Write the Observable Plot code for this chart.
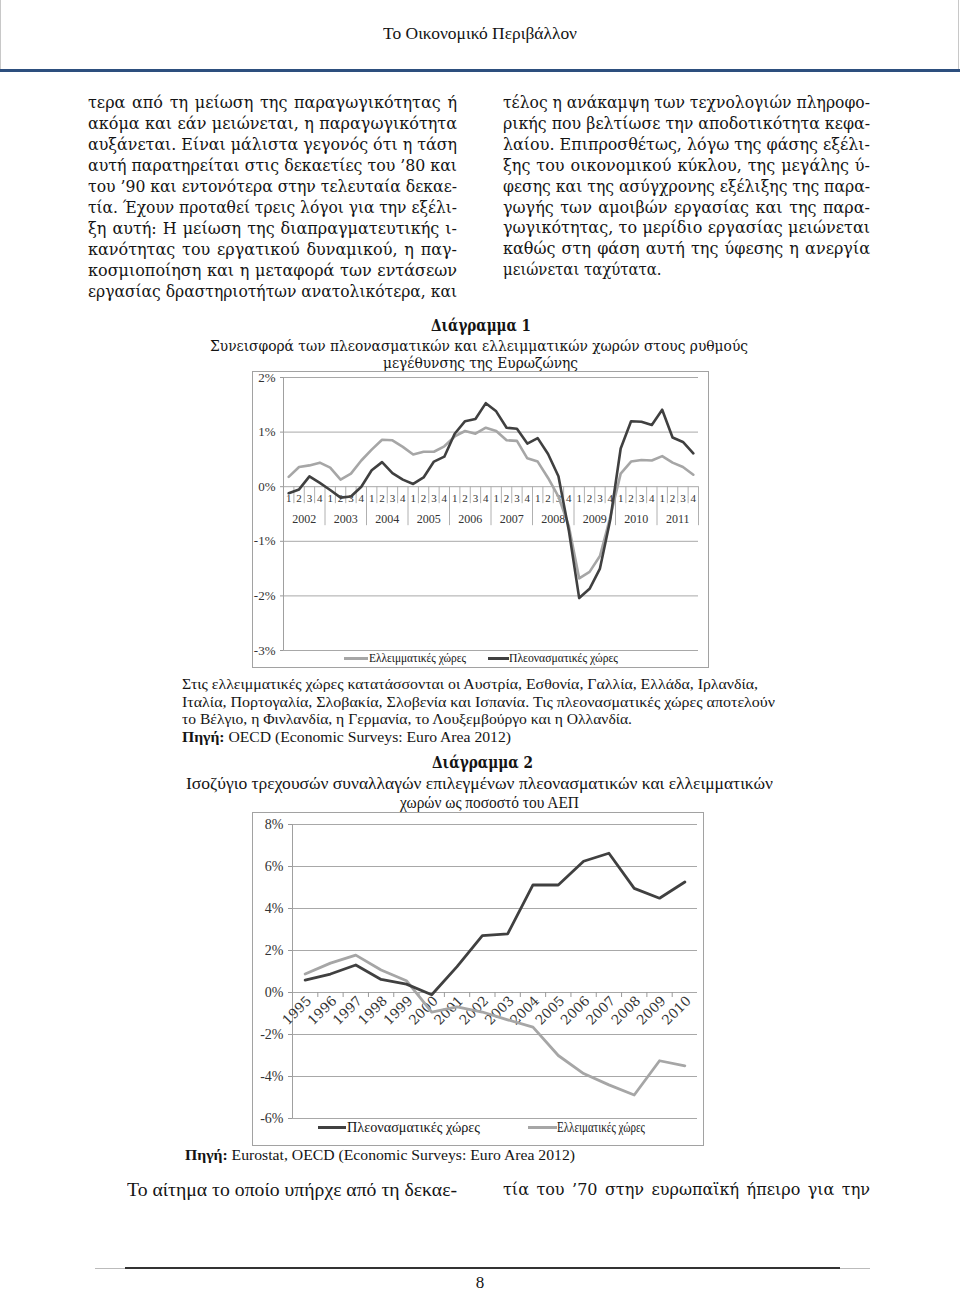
<!DOCTYPE html>
<html><head><meta charset="utf-8">
<script src="https://cdn.jsdelivr.net/npm/d3@7"></script>
<script src="https://cdn.jsdelivr.net/npm/@observablehq/plot@0.6"></script>
<style>
html,body{margin:0;padding:0;background:#fff;}
#page{position:relative;width:960px;height:1291px;overflow:hidden;color:#141414;}
.t{position:absolute;white-space:nowrap;line-height:20px;}
.box{position:absolute;border:1px solid #a2a2a2;box-sizing:border-box;}
.sw{position:absolute;height:3px;}
</style></head><body><div id="page"></div>
<script>
// ---------- DATA ----------
const years1 = [2002,2003,2004,2005,2006,2007,2008,2009,2010,2011];
const quarters = [1,2,3,4];
const deficit1 = [0.18,0.36,0.39,0.44, 0.35,0.13,0.24,0.48, 0.68,0.86,0.85,0.73, 0.59,0.64,0.64,0.74,
  0.92,1.02,0.97,1.08, 1.02,0.85,0.84,0.52, 0.46,0.16,-0.18,-0.72, -1.68,-1.56,-1.27,-0.55,
  0.24,0.46,0.49,0.48, 0.56,0.44,0.36,0.22];
const surplus1 = [-0.12,-0.05,0.19,0.07, -0.06,-0.2,-0.18,0.0, 0.3,0.45,0.25,0.13, 0.05,0.17,0.46,0.55,
  0.97,1.2,1.24,1.53, 1.38,1.08,1.06,0.79, 0.89,0.6,0.19,-0.8, -2.04,-1.87,-1.5,-0.6,
  0.7,1.2,1.19,1.13, 1.41,0.9,0.82,0.61];
const ticks1 = [-3,-2,-1,0,1,2];

const years2 = [1995,1996,1997,1998,1999,2000,2001,2002,2003,2004,2005,2006,2007,2008,2009,2010];
const surplus2 = [0.59,0.88,1.31,0.62,0.4,-0.11,1.23,2.71,2.79,5.12,5.12,6.25,6.63,4.96,4.49,5.26];
const deficit2 = [0.88,1.4,1.78,1.07,0.56,-0.93,-0.69,-0.93,-1.3,-1.65,-3.0,-3.86,-4.4,-4.88,-3.25,-3.49];
const ticks2 = [-6,-4,-2,0,2,4,6,8];

const leftCol = [
  "τερα από τη μείωση της παραγωγικότητας ή",
  "ακόμα και εάν μειώνεται, η παραγωγικότητα",
  "αυξάνεται. Είναι μάλιστα γεγονός ότι η τάση",
  "αυτή παρατηρείται στις δεκαετίες του ’80 και",
  "του ’90 και εντονότερα στην τελευταία δεκαε-",
  "τία. Έχουν προταθεί τρεις λόγοι για την εξέλι-",
  "ξη αυτή: Η μείωση της διαπραγματευτικής ι-",
  "κανότητας του εργατικού δυναμικού, η παγ-",
  "κοσμιοποίηση και η μεταφορά των εντάσεων",
  "εργασίας δραστηριοτήτων ανατολικότερα, και"];
const rightCol = [
  "τέλος η ανάκαμψη των τεχνολογιών πληροφο-",
  "ρικής που βελτίωσε την αποδοτικότητα κεφα-",
  "λαίου. Επιπροσθέτως, λόγω της φάσης εξέλι-",
  "ξης του οικονομικού κύκλου, της μεγάλης ύ-",
  "φεσης και της ασύγχρονης εξέλιξης της παρα-",
  "γωγής των αμοιβών εργασίας και της παρα-",
  "γωγικότητας, το μερίδιο εργασίας μειώνεται",
  "καθώς στη φάση αυτή της ύφεσης η ανεργία",
  "μειώνεται ταχύτατα."];
const notes1 = [
  "Στις ελλειμματικές χώρες κατατάσσονται οι Αυστρία, Εσθονία, Γαλλία, Ελλάδα, Ιρλανδία,",
  "Ιταλία, Πορτογαλία, Σλοβακία, Σλοβενία και Ισπανία. Τις πλεονασματικές χώρες αποτελούν",
  "το Βέλγιο, η Φινλανδία, η Γερμανία, το Λουξεμβούργο και η Ολλανδία.",
  "<b>Πηγή:</b> OECD (Economic Surveys: Euro Area 2012)"];
const series1 = ["Ελλειμματικές χώρες", "Πλεονασματικές χώρες"];
const series2 = ["Πλεονασματικές χώρες", "Ελλειματικές χώρες"];

// ---------- HELPERS ----------
const page = document.getElementById('page');
const BODY = '"DejaVu Serif", serif';
const TIMES = '"Liberation Serif", "Times New Roman", serif';
function txt(html, o) {
  const d = document.createElement('div');
  d.className = 't';
  d.style.fontFamily = o.font || TIMES;
  d.style.fontSize = o.size + 'px';
  if (o.weight) d.style.fontWeight = o.weight;
  d.style.top = (o.y - 10) + 'px';
  d.style.left = '0px';
  d.innerHTML = html;
  page.appendChild(d);
  const nat = d.getBoundingClientRect().width;
  const W = o.w;
  if (o.justify) {
    const n = (d.textContent.match(/ /g) || []).length;
    if (nat < W && n) d.style.wordSpacing = ((W - nat) / n) + 'px';
    else if (nat > W) { d.style.transformOrigin = '0 50%'; d.style.transform = `scaleX(${W / nat})`; }
    d.style.left = o.x + 'px';
  } else if (W) {
    d.style.transformOrigin = '0 50%'; d.style.transform = `scaleX(${W / nat})`;
    d.style.left = (o.cx != null ? o.cx - W / 2 : o.x) + 'px';
  } else {
    d.style.left = (o.cx != null ? o.cx - nat / 2 : o.x) + 'px';
  }
  return d;
}
function div(cls, css) {
  const d = document.createElement('div');
  d.className = cls; d.style.cssText += css; page.appendChild(d); return d;
}

// ---------- HEADER ----------
div('', 'position:absolute;left:0;top:0;width:1px;height:69px;background:#c8c8c8;');
div('', 'position:absolute;left:958px;top:0;width:1px;height:69px;background:#c8c8c8;');
div('', 'position:absolute;left:0;top:69px;width:960px;height:3px;background:#2d4f7e;');
txt("Το Οικονομικό Περιβάλλον", {cx: 480, y: 34, size: 16.5, w: 194});

// ---------- BODY COLUMNS ----------
leftCol.forEach((s, i) => txt(s, {x: 88, y: 103 + i * 21, size: 16, font: BODY, w: 369, justify: true}));
rightCol.forEach((s, i) => {
  if (i === rightCol.length - 1) {
    const d = txt(s, {x: 503, y: 103 + i * 20.9, size: 16, font: BODY});
    d.style.transformOrigin = '0 50%'; d.style.transform = 'scaleX(0.93)';
  } else txt(s, {x: 503, y: 103 + i * 20.9, size: 16, font: BODY, w: 367, justify: true});
});

// ---------- CHART 1 ----------
txt("Διάγραμμα 1", {cx: 481, y: 326, size: 16, font: BODY, weight: 'bold', w: 100});
txt("Συνεισφορά των πλεονασματικών και ελλειμματικών χωρών στους ρυθμούς", {cx: 479, y: 346, size: 15.5, font: BODY, w: 538});
txt("μεγέθυνσης της Ευρωζώνης", {cx: 480, y: 363, size: 15.5, font: BODY, w: 195});
div('box', 'left:252px;top:371px;width:457px;height:297px;');

const rows1 = [];
years1.forEach((yr, k) => quarters.forEach((q, j) => {
  const i = k * 4 + j;
  rows1.push({i, year: yr, q, deficit: deficit1[i], surplus: surplus1[i]});
}));
const qBounds = d3.range(41).filter(b => b % 4 !== 0).map(b => b - 0.5);
const yBounds = d3.range(41).filter(b => b % 4 === 0 && b > 0).map(b => b - 0.5);
const yearRows = years1.map((yr, k) => ({x: k * 4 + 1.5, year: String(yr)}));

const p1 = Plot.plot({
  width: 456, height: 290, marginLeft: 31, marginRight: 10, marginTop: 14, marginBottom: 3,
  style: {background: 'transparent', fontFamily: TIMES, overflow: 'visible', color: '#222'},
  x: {domain: [-0.5, 39.5], axis: null},
  y: {domain: [-3, 2], axis: null},
  marks: [
    Plot.ruleY(ticks1, {stroke: '#a8a8a8', strokeWidth: 1}),
    Plot.axisY(ticks1, {tickFormat: d => d + '%', tickSize: 3, tickPadding: 5, fontSize: 13, stroke: '#999', fill: '#333'}),
    Plot.ruleX([-0.5], {y1: -3, y2: 2, stroke: '#a0a0a0'}),
    Plot.ruleX(qBounds, {x: d => d, y1: () => 0, y2: () => 0, insetBottom: -17, stroke: '#b0b0b0'}),
    Plot.ruleX(yBounds, {x: d => d, y1: () => 0, y2: () => 0, insetBottom: -39, stroke: '#b0b0b0'}),
    Plot.text(rows1, {x: 'i', y: () => 0, text: d => String(d.q), dy: 12, fontSize: 11, fill: '#333'}),
    Plot.text(yearRows, {x: 'x', y: () => 0, text: 'year', dy: 32, fontSize: 12, fill: '#333'}),
    Plot.line(rows1, {x: 'i', y: 'deficit', stroke: '#a6a6a6', strokeWidth: 2.6}),
    Plot.line(rows1, {x: 'i', y: 'surplus', stroke: '#404040', strokeWidth: 2.6})
  ]
});
const h1 = div('', 'position:absolute;left:252px;top:363px;');
h1.appendChild(p1);

div('sw', 'left:344px;top:657px;width:24px;background:#a6a6a6;');
txt(series1[0], {x: 369, y: 658, size: 12.5, w: 97});
div('sw', 'left:488px;top:657px;width:21px;background:#404040;');
txt(series1[1], {x: 509, y: 658, size: 12.5, w: 109});

notes1.forEach((s, i) => {
  const ws = [576, 593, 450, 329][i];
  txt(s, {x: 182, y: 684 + i * 17.6, size: 15.5, w: ws});
});

// ---------- CHART 2 ----------
txt("Διάγραμμα 2", {cx: 482, y: 763, size: 16, font: BODY, weight: 'bold', w: 101});
txt("Ισοζύγιο τρεχουσών συναλλαγών επιλεγμένων πλεονασματικών και ελλειμματικών", {cx: 479.5, y: 784, size: 17, w: 587});
txt("χωρών ως ποσοστό του ΑΕΠ", {cx: 489.5, y: 803, size: 17, w: 179});
div('box', 'left:252px;top:812px;width:452px;height:334px;');

const rows2 = years2.map((yr, i) => ({i, year: String(yr), surplus: surplus2[i], deficit: deficit2[i]}));
const bounds2 = d3.range(1, 16).map(b => b - 0.5);

const p2 = Plot.plot({
  width: 451, height: 309, marginLeft: 40, marginRight: 6, marginTop: 12, marginBottom: 3,
  style: {background: 'transparent', fontFamily: TIMES, overflow: 'visible', color: '#222'},
  x: {domain: [-0.5, 15.5], axis: null},
  y: {domain: [-6, 8], axis: null},
  marks: [
    Plot.ruleY(ticks2, {stroke: '#a8a8a8', strokeWidth: 1}),
    Plot.axisY(ticks2, {tickFormat: d => d + '%', tickSize: 4, tickPadding: 5, fontSize: 14, stroke: '#999', fill: '#333'}),
    Plot.ruleX([-0.5], {y1: -6, y2: 8, stroke: '#a0a0a0'}),
    Plot.ruleX(bounds2, {x: d => d, y1: () => 0, y2: () => 0, insetBottom: -5, stroke: '#999'}),
    Plot.text(rows2, {x: 'i', y: () => 0, text: 'year', rotate: -45, textAnchor: 'end', dx: 4, dy: 6, fontSize: 13.5, fontFamily: BODY, fill: '#333'}),
    Plot.line(rows2, {x: 'i', y: 'deficit', stroke: '#a6a6a6', strokeWidth: 2.8}),
    Plot.line(rows2, {x: 'i', y: 'surplus', stroke: '#404040', strokeWidth: 2.8})
  ]
});
const h2 = div('', 'position:absolute;left:252px;top:812px;');
h2.appendChild(p2);

div('sw', 'left:318px;top:1126px;width:28px;background:#404040;');
txt(series2[0], {x: 347, y: 1127, size: 15, w: 133});
div('sw', 'left:528px;top:1126px;width:29px;background:#a6a6a6;');
txt(series2[1], {x: 557, y: 1127, size: 15, w: 88});

txt("<b>Πηγή:</b> Eurostat, OECD (Economic Surveys: Euro Area 2012)", {x: 185, y: 1155, size: 15, w: 390});

// ---------- BOTTOM ----------
txt("Το αίτημα το οποίο υπήρχε από τη δεκαε-", {x: 127, y: 1190, size: 18.5, w: 330});
txt("τία του ’70 στην ευρωπαϊκή ήπειρο για την", {x: 503, y: 1190, size: 16, font: BODY, w: 367, justify: true});
div('', 'position:absolute;left:95px;top:1268px;width:30px;height:1px;background:#bbb;');
div('', 'position:absolute;left:125px;top:1267px;width:715px;height:2px;background:#333;');
div('', 'position:absolute;left:840px;top:1268px;width:30px;height:1px;background:#bbb;');
txt("8", {cx: 480, y: 1283, size: 17});
</script></body></html>
